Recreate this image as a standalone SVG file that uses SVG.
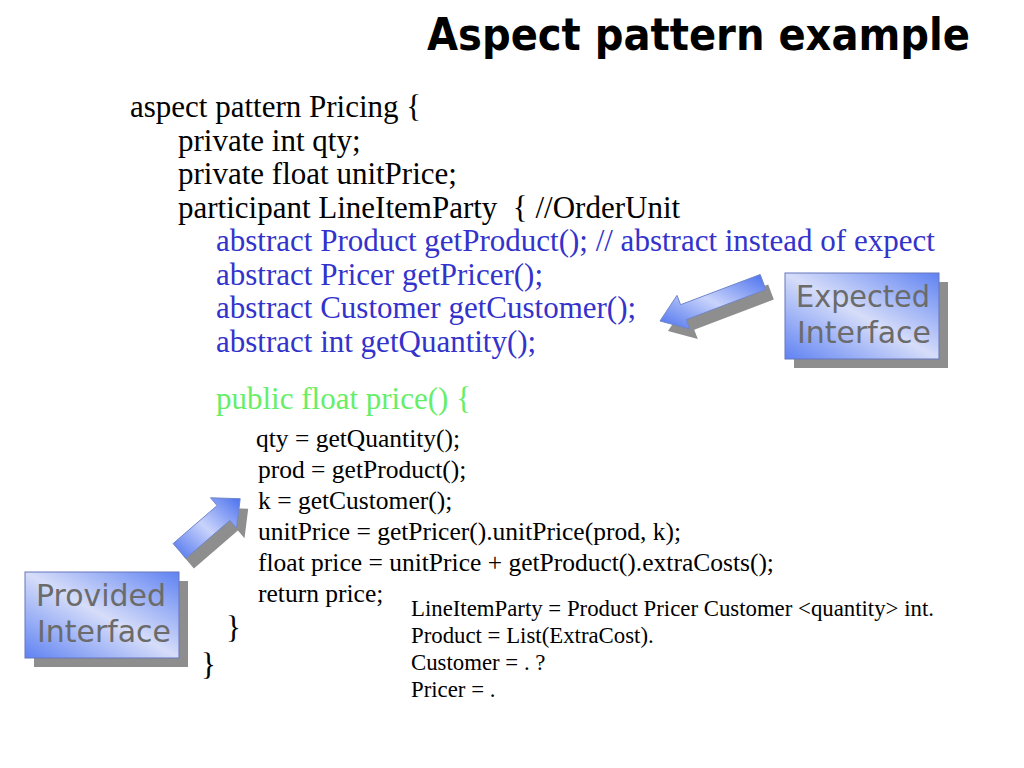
<svg xmlns="http://www.w3.org/2000/svg" width="1024" height="768" viewBox="0 0 1024 768">
<defs>
<linearGradient id="gBox" x1="0" y1="1" x2="1" y2="0">
<stop offset="0" stop-color="#5f82f2"/>
<stop offset="0.5" stop-color="#d6ddf9"/>
<stop offset="1" stop-color="#5f82f2"/>
</linearGradient>
<linearGradient id="gArrow" x1="0" y1="1" x2="1" y2="0">
<stop offset="0" stop-color="#4a70ee"/>
<stop offset="0.5" stop-color="#c9d3fb"/>
<stop offset="1" stop-color="#4a70ee"/>
</linearGradient>
<style>
.code{font-family:"Liberation Serif","Times New Roman",serif;fill:#000}
.big{font-size:31px}
.mid{font-size:25.5px}
.small{font-size:22.8px}
.blue{fill:#3333cc}
.green{fill:#66ee66}
.shadow{fill:#8e8e8e}
.box{fill:url(#gBox);stroke:#6677bb;stroke-width:1}
.arrow{fill:url(#gArrow);stroke:#6f86c8;stroke-width:1}
.label{font-family:"DejaVu Sans","Liberation Sans",sans-serif;font-size:31px;fill:#6b6b6b}
.title{font-family:"DejaVu Sans Condensed","DejaVu Sans","Liberation Sans",sans-serif;font-weight:bold;font-size:45px;fill:#000}
</style>
</defs>
<rect width="1024" height="768" fill="#ffffff"/>
<g id="title">
<text class="title" x="427" y="50" textLength="543" lengthAdjust="spacingAndGlyphs">Aspect pattern example</text>
</g>
<g id="code">
<text class="code big" x="130" y="117">aspect pattern Pricing {</text>
<text class="code big" x="178" y="150.5">private int qty;</text>
<text class="code big" x="178" y="184">private float unitPrice;</text>
<text class="code big" x="178" y="217.5" xml:space="preserve">participant LineItemParty  { //OrderUnit</text>
<text class="code big blue" x="216" y="251">abstract Product getProduct(); // abstract instead of expect</text>
<text class="code big blue" x="216" y="284.5">abstract Pricer getPricer();</text>
<text class="code big blue" x="216" y="318">abstract Customer getCustomer();</text>
<text class="code big blue" x="216" y="351.5">abstract int getQuantity();</text>
<text class="code big green" x="216" y="409">public float price() {</text>
<text class="code mid" x="256" y="447">qty = getQuantity();</text>
<text class="code mid" x="258" y="478">prod = getProduct();</text>
<text class="code mid" x="258" y="509">k = getCustomer();</text>
<text class="code mid" x="258" y="540">unitPrice = getPricer().unitPrice(prod, k);</text>
<text class="code mid" x="258" y="571">float price = unitPrice + getProduct().extraCosts();</text>
<text class="code mid" x="258" y="602">return price;</text>
<text class="code big" x="226" y="638">}</text>
<text class="code big" x="201" y="675">}</text>
</g>
<g id="grammar">
<text class="code small" x="411" y="616">LineItemParty = Product Pricer Customer &lt;quantity&gt; int.</text>
<text class="code small" x="411" y="643">Product = List(ExtraCost).</text>
<text class="code small" x="411" y="670">Customer = . ?</text>
<text class="code small" x="411" y="697">Pricer = .</text>
</g>
<g id="expected-interface">
<rect class="shadow" x="794" y="282" width="154" height="86"/>
<rect class="box" x="785" y="273" width="154" height="86"/>
<text class="label" x="796" y="307" textLength="134" lengthAdjust="spacingAndGlyphs">Expected</text>
<text class="label" x="797" y="343" textLength="134" lengthAdjust="spacingAndGlyphs">Interface</text>
</g>
<g id="provided-interface">
<rect class="shadow" x="34" y="581" width="154" height="86"/>
<rect class="box" x="25" y="572" width="154" height="86"/>
<text class="label" x="36" y="606" textLength="130" lengthAdjust="spacingAndGlyphs">Provided</text>
<text class="label" x="37" y="642" textLength="134" lengthAdjust="spacingAndGlyphs">Interface</text>
</g>
<g id="connectors">
<g id="arrow-expected">
<polygon class="shadow" transform="translate(8,10)" points="660,321 677,295.4 680.6,304.7 760.2,274.5 765.8,289.5 686.2,319.7 689.8,329"/>
<polygon class="arrow" points="660,321 677,295.4 680.6,304.7 760.2,274.5 765.8,289.5 686.2,319.7 689.8,329"/>
</g>
<g id="arrow-provided">
<polygon class="shadow" transform="translate(8,10)" points="173.1,543.6 217.1,505.6 210.5,497.8 240.2,498.7 236.5,528.2 229.9,520.4 185.9,558.4"/>
<polygon class="arrow" points="173.1,543.6 217.1,505.6 210.5,497.8 240.2,498.7 236.5,528.2 229.9,520.4 185.9,558.4"/>
</g>
</g>
</svg>
